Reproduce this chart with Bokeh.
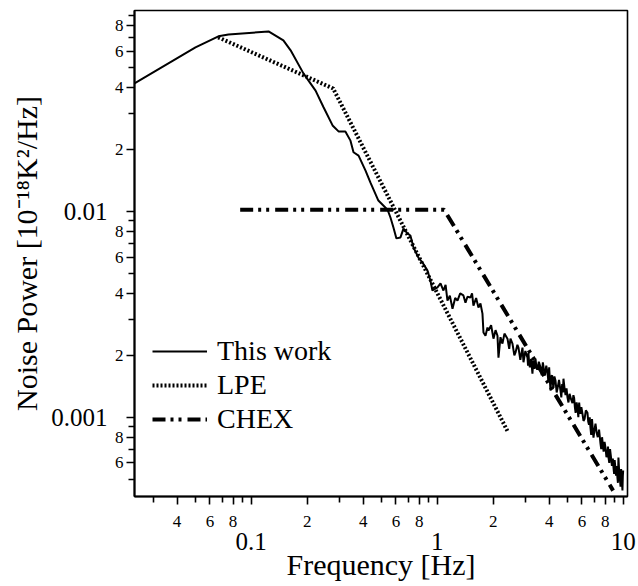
from bokeh.plotting import figure
from bokeh.models import LogAxis, FixedTicker, CustomJSTickFormatter, Range1d
from bokeh.embed import file_html
from bokeh.resources import INLINE

# ---------------- data ----------------
work_freq = [0.0236, 0.0502, 0.0667, 0.0755, 0.124, 0.149, 0.163, 0.191, 0.222, 0.245,
             0.274, 0.295, 0.321, 0.342, 0.355, 0.378, 0.412, 0.438, 0.483, 0.541,
             0.561, 0.582, 0.604, 0.635, 0.659, 0.692, 0.718, 0.746, 0.793, 0.834,
             0.887, 0.920, 0.943, 1.004, 1.042, 1.081, 1.11, 1.136, 1.17, 1.209,
             1.25, 1.286, 1.33, 1.384, 1.42, 1.455, 1.510, 1.54, 1.567, 1.62,
             1.667, 1.709, 1.752, 1.774, 1.819, 1.864, 1.888, 1.95, 2.008, 2.06,
             2.110, 2.136, 2.19, 2.244, 2.3, 2.388, 2.44, 2.478, 2.54, 2.6,
             2.636, 2.7, 2.736, 2.8, 2.875, 2.911, 2.98,
             3.059, 3.08, 3.096, 3.12, 3.15, 3.2, 3.253, 3.275, 3.295, 3.34,
             3.378, 3.41, 3.45, 3.52, 3.592, 3.65, 3.7, 3.75, 3.8, 3.86,
             3.918, 3.96, 4.0, 4.03, 4.066, 4.11, 4.15, 4.19, 4.22, 4.27,
             4.325, 4.39, 4.45, 4.52, 4.6, 4.65, 4.7, 4.74, 4.775, 4.84,
             4.9, 4.96, 5.018, 5.08, 5.15, 5.25, 5.339, 5.4, 5.45, 5.5,
             5.55, 5.62, 5.677, 5.74, 5.8, 5.85, 5.891, 5.96, 6.041, 6.12,
             6.2, 6.3, 6.427, 6.49, 6.55, 6.61, 6.669, 6.73, 6.8, 6.86,
             6.925, 7.0, 7.10, 7.2, 7.3, 7.42, 7.552, 7.62, 7.7, 7.78,
             7.85, 7.94, 8.03, 8.13, 8.233, 8.29, 8.34, 8.42, 8.5, 8.6,
             8.7, 8.8, 8.87, 8.94, 9.0, 9.08, 9.15, 9.23, 9.31, 9.37,
             9.43, 9.52, 9.6, 9.68, 9.75, 9.83, 9.91, 9.96, 10.0]
work_power = [0.0419, 0.0627, 0.0710, 0.0725, 0.0750, 0.0678, 0.0607, 0.0469, 0.0387, 0.0321,
              0.0262, 0.0245, 0.0245, 0.0221, 0.0194, 0.0187, 0.0158, 0.0138, 0.0113, 0.0102,
              0.00935, 0.00836, 0.00740, 0.00748, 0.00826, 0.00782, 0.00764, 0.00668, 0.00597, 0.00565,
              0.00516, 0.00462, 0.00413, 0.00428, 0.00447, 0.00413, 0.00440, 0.00369, 0.00390, 0.00337,
              0.00380, 0.00369, 0.00400, 0.00391, 0.00360, 0.00385, 0.00382, 0.00400, 0.00349, 0.00380,
              0.00341, 0.00357, 0.00319, 0.00258, 0.00249, 0.00273, 0.00264, 0.00280, 0.00241, 0.00265,
              0.00249, 0.00195, 0.00245, 0.00228, 0.00255, 0.00241, 0.00215, 0.00241, 0.00228, 0.00200,
              0.00206, 0.00225, 0.00218, 0.00190, 0.00218, 0.00185, 0.00210,
              0.00195, 0.00178, 0.00205, 0.00185, 0.00175, 0.00192, 0.00163, 0.00180, 0.00189, 0.00172,
              0.00193, 0.00178, 0.00170, 0.00186, 0.00175, 0.00160, 0.00185, 0.00170, 0.00160, 0.00178,
              0.00165, 0.00150, 0.00175, 0.00155, 0.00135, 0.00158, 0.00160, 0.00145, 0.00139, 0.00158,
              0.00151, 0.00132, 0.00140, 0.00152, 0.00135, 0.00125, 0.00145, 0.00132, 0.00154, 0.00138,
              0.00128, 0.00138, 0.00125, 0.00118, 0.00130, 0.00122, 0.00117, 0.00128, 0.00124, 0.00112,
              0.00105, 0.00118, 0.00111, 0.00100, 0.00118, 0.00108, 0.00104, 0.00112, 0.00104, 0.00096,
              0.00098, 0.00108, 0.00105, 0.00095, 0.00092, 0.00100, 0.000891, 0.00082, 0.00098, 0.00088,
              0.000796, 0.00086, 0.000932, 0.00084, 0.00080, 0.00087, 0.000745, 0.00070, 0.00080, 0.00073,
              0.00068, 0.00076, 0.000713, 0.00064, 0.000667, 0.00072, 0.000637, 0.00060, 0.00070, 0.00064,
              0.00058, 0.00063, 0.000569, 0.00053, 0.00062, 0.00057, 0.00052, 0.00058, 0.000510, 0.00048,
              0.000637, 0.00054, 0.00050, 0.00046, 0.00056, 0.00050, 0.000441, 0.00052, 0.000551]

lpe_freq = [0.0665, 0.276, 2.41]
lpe_power = [0.0702, 0.0396, 0.000843]

chex_freq = [0.0873, 1.09, 8.83]
chex_power = [0.0102, 0.0102, 0.00044]

series_labels = ["This work", "LPE", "CHEX"]

x_decades = [0.1, 1.0, 10.0]
x_decade_labels = ["0.1", "1", "10"]
y_decades = [0.001, 0.01]
y_decade_labels = ["0.001", "0.01"]
labeled_mantissas = [2, 4, 6, 8]
unlabeled_mantissas = [3, 5, 7, 9]

x_title = "Frequency [Hz]"
y_title = "Noise Power [10\u207b\u00b9\u2078K\u00b2/Hz]"

X_MIN, X_MAX = 0.0236, 10.55
Y_MIN, Y_MAX = 0.000412, 0.0948

# ---------------- ticks ----------------
x_exps = [-2, -1, 0]
y_exps = [-4, -3, -2]
x_major = [m * 10.0 ** e for e in x_exps for m in labeled_mantissas] + x_decades
x_minor = [m * 10.0 ** e for e in x_exps for m in unlabeled_mantissas]
y_major = [m * 10.0 ** e for e in y_exps for m in labeled_mantissas] + y_decades
y_minor = [m * 10.0 ** e for e in y_exps for m in unlabeled_mantissas]

FONT = "Liberation Serif"

inner_fmt_code = """
const e = Math.floor(Math.log10(tick) + 1e-6);
const m = Math.round(tick / Math.pow(10, e));
return (m == 2 || m == 4 || m == 6 || m == 8) ? String(m) : "";
"""
outer_fmt_code = """
for (let i = 0; i < vals.length; i++) {
  if (Math.abs(Math.log10(tick / vals[i])) < 1e-6) return labs[i];
}
return "";
"""

p = figure(frame_width=493, frame_height=486, x_axis_type="log", y_axis_type="log",
           x_range=Range1d(X_MIN, X_MAX), y_range=Range1d(Y_MIN, Y_MAX),
           output_backend="svg", toolbar_location=None,
           min_border_left=134, min_border_right=11, min_border_top=10,
           min_border_bottom=90)
p.xgrid.visible = False
p.ygrid.visible = False
p.outline_line_color = "black"
p.outline_line_width = 1.6
p.background_fill_color = "white"
p.border_fill_color = "white"


def style_inner(ax, major, minor):
    ax.ticker = FixedTicker(ticks=major, minor_ticks=minor)
    ax.formatter = CustomJSTickFormatter(code=inner_fmt_code)
    ax.axis_line_width = 2
    ax.axis_line_color = "black"
    ax.major_tick_out = 8
    ax.major_tick_in = 0
    ax.minor_tick_out = 6
    ax.minor_tick_in = 0
    ax.major_tick_line_width = 1.6
    ax.minor_tick_line_width = 1.6
    ax.major_label_text_font = FONT
    ax.major_label_text_font_size = "17px"
    ax.major_label_text_color = "black"


def style_outer(ax, title):
    ax.axis_line_color = None
    ax.major_tick_line_color = None
    ax.minor_tick_line_color = None
    ax.major_tick_out = 0
    ax.major_tick_in = 0
    ax.minor_tick_out = 0
    ax.minor_tick_in = 0
    ax.major_label_text_font = FONT
    ax.major_label_text_font_size = "25px"
    ax.major_label_text_color = "black"
    ax.axis_label = title
    ax.axis_label_text_font = FONT
    ax.axis_label_text_font_size = "30px"
    ax.axis_label_text_font_style = "normal"
    ax.axis_label_text_color = "black"


xin = p.xaxis[0]
style_inner(xin, x_major, x_minor)
xin.major_label_standoff = 11

yin = p.yaxis[0]
style_inner(yin, y_major, y_minor)
yin.major_label_standoff = 3

xout = LogAxis(ticker=FixedTicker(ticks=x_decades, minor_ticks=[]),
               formatter=CustomJSTickFormatter(args=dict(vals=x_decades, labs=x_decade_labels),
                                               code=outer_fmt_code))
style_outer(xout, x_title)
xout.major_label_standoff = 3
xout.axis_label_standoff = -5
p.add_layout(xout, "below")

yout = LogAxis(ticker=FixedTicker(ticks=y_decades, minor_ticks=[]),
               formatter=CustomJSTickFormatter(args=dict(vals=y_decades, labs=y_decade_labels),
                                               code=outer_fmt_code))
style_outer(yout, y_title)
yout.major_label_standoff = 4
yout.axis_label_standoff = 5
p.add_layout(yout, "left")

p.line(work_freq, work_power, line_color="black", line_width=2,
       legend_label=series_labels[0])
p.line(lpe_freq, lpe_power, line_color="black", line_width=4, line_dash="2 2",
       legend_label=series_labels[1])
p.line(chex_freq, chex_power, line_color="black", line_width=4, line_dash="13 5 3 5 3 6",
       legend_label=series_labels[2])

lg = p.legend[0]
lg.location = (18, 61)
lg.padding = 0
lg.margin = 0
lg.spacing = 2
lg.glyph_width = 55
lg.glyph_height = 32
lg.label_height = 32
lg.label_standoff = 10
lg.label_text_font = FONT
lg.label_text_font_size = "28px"
lg.label_text_color = "black"
lg.border_line_color = None
lg.background_fill_alpha = 0

open("out.html", "w").write(file_html(p, INLINE))
